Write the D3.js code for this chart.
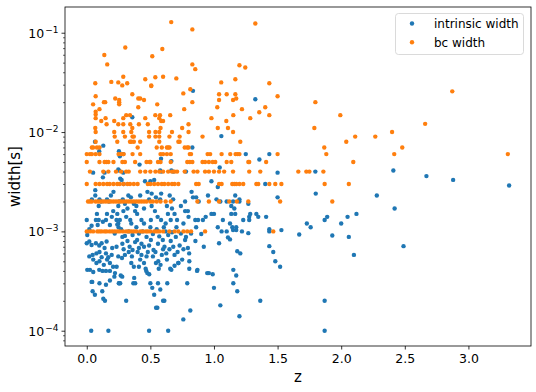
<!DOCTYPE html>
<html lang="en">
<head>
<meta charset="UTF-8">
<title>width vs z</title>
<script src="https://d3js.org/d3.v7.min.js"></script>
<style>
    body { margin: 0; background: #fff; }
    svg { display: block; font-family: "DejaVu Sans", sans-serif; }
</style>
</head>
<body>
<div id="chart"></div>
<script>
    // tick values
    const xTicks = [0, 0.5, 1, 1.5, 2, 2.5, 3];
    const yDecades = [-4, -3, -2, -1];

    // intrinsic width, [z, width]
    const intrinsicPts = [
        [0.835,0.026],[1.325,0.0214],[0.358,0.0141],[1.058,0.0091],[0.065,0.008],[0.13,0.0073],[0.83,0.007],
        [0.098,0.0064],[0.253,0.0064],[0.26,0.0057],[0.287,0.006],[1.25,0.006],[1.435,0.006],[1.357,0.0053],
        [0.584,0.0054],[0.665,0.0051],[0.415,0.0047],[1.045,0.0044],[0.05,0.0039],[0.14,0.0039],[0.127,0.0035],
        [0.253,0.0041],[0.248,0.0042],[0.287,0.0039],[0.263,0.0034],[0.274,0.0033],[0.29,0.003],[0.458,0.0032],
        [0.5,0.0032],[0.53,0.0033],[0.577,0.0041],[0.585,0.004],[0.665,0.0041],[0.68,0.004],[0.78,0.004],
        [0.98,0.0032],[1.03,0.0028],[1.5,0.0039],[1.403,0.003],[1.797,0.004],[2.41,0.0041],[2.67,0.0036],
        [2.88,0.0033],[3.32,0.0029],[2.28,0.0023],[1.8,0.0024],[1.5,0.0022],[2.42,0.0017],[2.12,0.0015],
        [2.05,0.0014],[1.89,0.0014],[1.87,0.0013],[2.0,0.0012],[1.73,0.0012],[1.76,0.0011],[1.67,0.00093],
        [1.93,0.00091],[2.06,0.00088],[2.1,0.00058],[2.49,0.00071],[1.87,0.0002],[1.87,0.0001],
        [1.167,0.0023],[1.15,0.002],[1.2,0.0021],[1.2,0.002],[1.136,0.0018],[1.16,0.0017],[1.167,0.0015],
        [1.136,0.0015],[1.27,0.0019],[1.285,0.0015],[1.333,0.0015],[1.348,0.0014],[1.277,0.0014],[1.277,0.0013],
        [1.23,0.0013],[1.41,0.0014],[1.126,0.0012],[1.144,0.0011],[1.175,0.0011],[1.175,0.00103],[1.15,0.00103],
        [1.22,0.001],[1.27,0.00096],[1.435,0.00105],[1.435,0.001],[1.53,0.00103],[1.126,0.00083],[1.435,0.00071],
        [1.183,0.00063],[1.207,0.0006],[1.466,0.00062],[1.482,0.0005],[1.52,0.00044],[1.152,0.00041],
        [1.175,0.00036],[1.152,0.0003],[1.183,0.00025],[1.364,0.0002],[1.2,0.00014],[1.05,0.00018],
        [1.02,0.0021],[1.05,0.002],[1.1,0.002],[1.0,0.0015],[0.98,0.0015],[1.03,0.0011],[1.06,0.001],
        [1.1,0.001],[1.07,0.0013],[1.11,0.00087],[1.04,0.00076],[0.96,0.00038],[0.99,0.00037],[1.0,0.00027],
        [0.035,0.0001],[0.17,0.0001],[0.49,0.0001],[0.64,0.0001],[0.31,0.0002],[0.545,0.00017],[0.555,0.00017],
        [0.6,0.0002],[0.61,0.0002],[0.814,0.00016],[0.759,0.00013],[0.064,0.00023],[0.122,0.00025],
        [0.13,0.00021],[0.143,0.0002],[0.046,0.00025],[0.043,0.00031],[0.1,0.0003],[0.151,0.00029],
        [0.255,0.0003],[0.263,0.0003],[0.182,0.00032],[0.217,0.00035],[0.279,0.00035],[0.366,0.0003],
        [0.373,0.00034],[0.381,0.0003],[0.5,0.0003],[0.515,0.00027],[0.53,0.00023],[0.56,0.0003],[0.578,0.00026],
        [0.633,0.0003],[0.72,0.00048],[0.656,0.00042],[0.79,0.0003],[0.87,0.00041],[0.947,0.00038],[0.806,0.0005],
        [0.806,0.00042],[0.562,0.0005],[0.476,0.00038],[0.468,0.0004],[0.491,0.00037],
        [0.0,0.0013],[0.072,0.0013],[0.086,0.00116],[0.038,0.00114],[0.151,0.0013],[0.182,0.00116],
        [0.004,0.00092],[0.0,0.00076],[0.02,0.00079],[0.038,0.00073],[0.072,0.00076],[0.098,0.00072],
        [0.117,0.00076],[0.156,0.00079],[0.02,0.00056],[0.046,0.00058],[0.076,0.0006],[0.1,0.00062],
        [0.117,0.00055],[0.151,0.0006],[0.169,0.00055],[0.196,0.00058],[0.051,0.00052],[0.076,0.00048],
        [0.1,0.0005],[0.134,0.00046],[0.16,0.00052],[0.182,0.00048],[0.004,0.00041],[0.025,0.00041],
        [0.051,0.00039],[0.098,0.00041],[0.124,0.0004],[0.151,0.0004],[0.182,0.0004],[0.222,0.00038],
        [0.235,0.00044],[0.252,0.0003],[0.038,0.00031],
        [0.234,0.0007],[0.248,0.00056],[0.277,0.00054],[0.207,0.00044],[0.267,0.00036],[0.32,0.0008],
        [0.337,0.0007],[0.355,0.00056],[0.37,0.00044],[0.396,0.00082],[0.41,0.00068],[0.43,0.00058],
        [0.45,0.00048],[0.463,0.00042],[0.504,0.00082],[0.525,0.00065],[0.544,0.00048],[0.566,0.00042],
        [0.598,0.00082],[0.611,0.0007],[0.625,0.0006],[0.66,0.0008],[0.68,0.0007],[0.714,0.00062],
        [0.72,0.00048],[0.665,0.00041],[0.773,0.00082],[0.795,0.00068],[0.805,0.0006],[0.867,0.0004],
        [0.854,0.0008],[0.92,0.0007],
        [0.067,0.0026],[0.067,0.0023],[0.04,0.0021],[0.1,0.0021],[0.113,0.002],[0.094,0.0018],[0.159,0.0021],
        [0.175,0.002],[0.19,0.0023],[0.21,0.0025],[0.256,0.002],[0.248,0.0018],[0.283,0.0021],[0.3,0.0019],
        [0.327,0.0023],[0.347,0.0022],[0.37,0.0019],[0.42,0.0023],[0.477,0.0025],[0.49,0.0021],[0.51,0.0024],
        [0.544,0.0022],[0.585,0.0024],[0.577,0.0021],[0.652,0.0023],[0.679,0.0021],[0.773,0.002],
        [0.795,0.0016],[0.824,0.0025],[0.835,0.0022],[0.86,0.0022],[0.88,0.002],[0.953,0.0023],
        [0.02,0.00105],[0.08,0.0015],[0.094,0.0013],[0.127,0.00125],[0.159,0.0015],[0.197,0.0014],
        [0.234,0.0013],[0.248,0.0012],[0.288,0.0016],[0.31,0.0014],[0.342,0.0013],[0.38,0.0016],
        [0.396,0.0015],[0.43,0.0013],[0.504,0.0013],[0.536,0.0016],[0.557,0.0014],[0.584,0.0013],
        [0.606,0.0011],[0.638,0.0015],[0.66,0.0013],[0.69,0.0015],[0.705,0.0011],[0.773,0.0016],[0.8,0.0014],
        [0.853,0.0013],[0.875,0.0013],[0.913,0.0013],[0.935,0.0014],[0.208,0.0016],[0.24,0.0015],
        [0.26,0.0013],[0.24,0.00117],
        [0.22,0.00095],[0.27,0.00105],[0.3,0.0009],[0.33,0.001],[0.36,0.00092],[0.39,0.0011],[0.41,0.00095],
        [0.44,0.001],[0.47,0.00088],[0.5,0.0011],[0.52,0.00094],[0.55,0.00105],[0.57,0.00089],[0.62,0.001],
        [0.64,0.00092],[0.67,0.00098],[0.7,0.00088],[0.74,0.00095],[0.78,0.00088],[0.82,0.00095],
        [0.25,0.0011],[0.35,0.0012],[0.45,0.0012],[0.62,0.0012],[0.71,0.0013],[0.76,0.0012],[0.32,0.0017],
        [0.45,0.0017],[0.51,0.0018],[0.63,0.0018],[0.67,0.0017],[0.74,0.0018],[0.39,0.0018],[0.28,0.00075],
        [0.45,0.0007],[0.56,0.00075],[0.69,0.00058],[0.36,0.00065],[0.59,0.00058],[0.52,0.00056],
        [0.3,0.00058],[0.42,0.00052],[0.63,0.00052],[0.75,0.00052],
        [0.38,0.00078],[0.43,0.00075],[0.48,0.00062],[0.4,0.00062],[0.33,0.00062],[0.54,0.00062],
        [0.49,0.00072],[0.6,0.00066],[0.65,0.00066],[0.73,0.00072],[0.76,0.00066],[0.29,0.00066],
        [0.41,0.00044],[0.35,0.00048],[0.58,0.00046],[0.69,0.00045],[0.47,0.00056],[0.28,0.00088],
        [0.86,0.0011],[0.9,0.00094],[0.2,0.00068],[0.14,0.00068]
    ];

    // bc width: values that sit on the 0.001 .. 0.01 grid, [width, z list]
    const bcRows = [
        [0.001, [0.0,0.025,0.05,0.083,0.1,0.117,0.14,0.156,0.18,0.2,0.22,0.24,0.26,0.285,0.31,0.33,0.35,0.37,
                 0.39,0.42,0.44,0.465,0.48,0.5,0.53,0.55,0.57,0.6,0.65,0.69,0.72,0.76,0.79,0.82,0.93,1.466]],
        [0.002, [0.01,0.025,0.04,0.07,0.09,0.11,0.13,0.15,0.17,0.19,0.21,0.23,0.25,0.27,0.29,0.31,0.33,0.35,
                 0.37,0.39,0.41,0.43,0.45,0.47,0.5,0.52,0.55,0.58,0.62,0.66,0.87,0.96,1.04,1.12,1.18,1.27,1.52,1.93]],
        [0.003, [0.0,0.07,0.1,0.13,0.16,0.18,0.21,0.24,0.26,0.29,0.32,0.34,0.37,0.4,0.48,0.5,0.53,0.56,0.59,
                 0.61,0.64,0.67,0.69,0.72,0.86,0.88,1.04,1.06,1.144,1.16,1.175,1.2,1.23,1.333,1.348,1.435,
                 1.482,1.53,1.87,2.06]],
        [0.004, [0.025,0.13,0.17,0.23,0.27,0.31,0.33,0.42,0.46,0.5,0.54,0.57,0.6,0.64,0.67,0.69,0.71,0.77,
                 0.84,0.87,0.93,0.96,1.0,1.04,1.08,1.15,1.277,1.364,1.663,1.726,1.75,1.86]],
        [0.005, [0.0,0.1,0.14,0.155,0.17,0.21,0.28,0.3,0.38,0.47,0.495,0.5,0.56,0.58,0.66,0.79,0.81,0.83,
                 0.91,0.93,0.96,0.99,1.01,1.1,1.136,1.27,1.277,1.41,2.095]],
        [0.006, [0.0,0.025,0.04,0.07,0.1,0.25,0.27,0.29,0.36,0.42,0.58,0.6,0.63,0.66,0.81,0.82,0.95,0.97,
                 1.06,1.128,1.17,1.186,1.2,1.5,1.883,2.417,3.31]],
        [0.007, [0.04,0.05,0.08,0.1,0.4,0.55,0.59,0.63,0.64,0.65,0.77,0.79,0.8,1.867,2.48]],
        [0.008, [0.07,0.24,0.34,0.35,0.37,0.42,0.57,0.72,0.73,1.207,2.04]],
        [0.009, [0.22,0.3,0.36,0.37,0.49,0.54,0.57,0.65,0.73,0.91,2.11,2.268]],
        [0.01,  [0.07,0.216,0.287,0.35,0.49,0.54,0.57,0.67,0.8,1.15,2.4]]
    ];

    // bc width: remaining values, [z, width]
    const bcScatter = [
        [0.664,0.128],[0.83,0.108],[1.325,0.124],[0.303,0.071],[0.594,0.0686],[0.138,0.0597],[0.515,0.058],
        [0.161,0.048],[0.83,0.048],[0.853,0.043],[1.2,0.047],[1.246,0.0447],[0.067,0.031],[0.193,0.032],
        [0.248,0.0316],[0.287,0.036],[0.279,0.0295],[0.318,0.031],[0.46,0.034],[0.507,0.0295],[0.507,0.029],
        [0.539,0.0356],[0.6,0.036],[0.704,0.0347],[0.814,0.027],[0.759,0.0245],[0.83,0.02],[1.057,0.0316],
        [1.04,0.024],[1.1,0.024],[1.168,0.034],[1.04,0.021],[1.15,0.021],[1.168,0.024],[1.175,0.0218],
        [1.026,0.0178],[0.98,0.0138],[1.097,0.0129],[1.152,0.0148],[1.11,0.011],[1.03,0.011],[1.435,0.031],
        [1.5,0.0229],[1.797,0.02],[1.22,0.017],[1.403,0.0178],[1.356,0.0158],[1.435,0.0148],[1.285,0.0138],
        [1.993,0.0148],[1.789,0.011],[2.873,0.0257],[2.66,0.0121],
        [0.07,0.0229],[0.05,0.019],[0.07,0.016],[0.07,0.015],[0.07,0.0138],[0.1,0.017],[0.114,0.0129],
        [0.067,0.011],[0.135,0.02],[0.145,0.02],[0.148,0.0138],[0.224,0.0218],[0.255,0.021],[0.255,0.02],
        [0.255,0.019],[0.216,0.0129],[0.248,0.012],[0.287,0.0138],[0.287,0.012],[0.31,0.0148],[0.34,0.0148],
        [0.358,0.024],[0.405,0.0218],[0.42,0.0218],[0.405,0.0178],[0.45,0.021],[0.46,0.0138],[0.41,0.012],
        [0.358,0.011],[0.539,0.0148],[0.554,0.019],[0.57,0.0138],[0.585,0.0129],[0.576,0.0148],[0.6,0.0129],
        [0.656,0.0148],[0.58,0.011],[0.75,0.011],[0.766,0.017],[0.8,0.012],[0.156,0.012],[0.342,0.012],
        [0.48,0.012]
    ];

    const blue = '#1f77b4';
    const orange = '#ff7f0e';

    const width = 536;
    const height = 392;
    const plot = { left: 65, right: 531, top: 7, bottom: 346 };

    const svg = d3.select('#chart')
        .append('svg')
        .attr('width', width)
        .attr('height', height);

    const x = d3.scaleLinear().domain([-0.171, 3.492]).range([plot.left, plot.right]);
    const y = d3.scaleLog().domain([Math.pow(10, -4.154), Math.pow(10, -0.741)]).range([plot.bottom, plot.top]);

    // bc rows flattened into points
    const bcPts = [];
    bcRows.forEach(([w, zs]) => zs.forEach(z => bcPts.push([z, w])));
    bcScatter.forEach(p => bcPts.push(p));

    const dots = svg.append('g');
    dots.selectAll('.intrinsic')
        .data(intrinsicPts)
        .enter().append('circle')
        .attr('class', 'intrinsic')
        .attr('cx', d => x(d[0]))
        .attr('cy', d => y(d[1]))
        .attr('r', 2.2)
        .attr('fill', blue);

    dots.selectAll('.bc')
        .data(bcPts)
        .enter().append('circle')
        .attr('class', 'bc')
        .attr('cx', d => x(d[0]))
        .attr('cy', d => y(d[1]))
        .attr('r', 2.2)
        .attr('fill', orange);

    // x axis
    const xAxis = svg.append('g')
        .attr('transform', `translate(0,${plot.bottom})`)
        .call(d3.axisBottom(x).tickValues(xTicks).tickFormat(d3.format('.1f'))
            .tickSize(3.5).tickSizeOuter(0).tickPadding(4.5));
    xAxis.select('.domain').remove();
    xAxis.selectAll('text').attr('font-size', 12.5).attr('fill', '#000')
        .attr('font-family', '"DejaVu Sans", sans-serif');
    xAxis.selectAll('line').attr('stroke', '#000').attr('stroke-width', 0.8);

    // y axis, minor ticks first
    const minors = [];
    for (let k = -5; k <= 0; k++) {
        for (let m = 2; m <= 9; m++) {
            const v = m * Math.pow(10, k);
            if (y(v) <= plot.bottom && y(v) >= plot.top) minors.push(v);
        }
    }
    const yMinor = svg.append('g')
        .attr('transform', `translate(${plot.left},0)`)
        .call(d3.axisLeft(y).tickValues(minors).tickFormat('').tickSize(2).tickSizeOuter(0));
    yMinor.select('.domain').remove();
    yMinor.selectAll('line').attr('stroke', '#000').attr('stroke-width', 0.6);

    const yAxis = svg.append('g')
        .attr('transform', `translate(${plot.left},0)`)
        .call(d3.axisLeft(y).tickValues(yDecades.map(k => Math.pow(10, k)))
            .tickFormat('').tickSize(3.5).tickSizeOuter(0));
    yAxis.select('.domain').remove();
    yAxis.selectAll('line').attr('stroke', '#000').attr('stroke-width', 0.8);
    yAxis.selectAll('.tick').each(function (d) {
        const k = Math.round(Math.log10(d));
        const t = d3.select(this).select('text')
            .attr('x', -6.5)
            .attr('dy', '0.36em')
            .attr('text-anchor', 'end')
            .attr('font-size', 12.5)
            .attr('fill', '#000')
            .attr('font-family', '"DejaVu Sans", sans-serif')
            .text(null);
        t.append('tspan').text('10');
        t.append('tspan').attr('font-size', 9).attr('dy', '-5').attr('dx', '1').text('\u2212' + Math.abs(k));
    });

    // frame
    svg.append('rect')
        .attr('x', plot.left)
        .attr('y', plot.top)
        .attr('width', plot.right - plot.left)
        .attr('height', plot.bottom - plot.top)
        .attr('fill', 'none')
        .attr('stroke', '#000')
        .attr('stroke-width', 0.8);

    // axis labels
    svg.append('text')
        .attr('x', (plot.left + plot.right) / 2)
        .attr('y', 381.5)
        .attr('text-anchor', 'middle')
        .attr('font-size', 15)
        .text('z');

    svg.append('text')
        .attr('transform', `translate(20,${(plot.top + plot.bottom) / 2}) rotate(-90)`)
        .attr('text-anchor', 'middle')
        .attr('font-size', 15)
        .text('width[s]');

    // legend
    const legend = svg.append('g');
    legend.append('rect')
        .attr('x', 395.5).attr('y', 13.5)
        .attr('width', 128).attr('height', 41)
        .attr('rx', 3)
        .attr('fill', '#fff').attr('fill-opacity', 0.8)
        .attr('stroke', '#d0d0d0').attr('stroke-width', 0.8);

    const legendItems = [['intrinsic width', blue], ['bc width', orange]];
    legendItems.forEach(([label, c], i) => {
        const ly = 23.5 + i * 18.8;
        legend.append('circle').attr('cx', 412).attr('cy', ly).attr('r', 2.2).attr('fill', c);
        legend.append('text').attr('x', 434).attr('y', ly + 4.4)
            .attr('font-size', 12).text(label);
    });
</script>
</body>
</html>
